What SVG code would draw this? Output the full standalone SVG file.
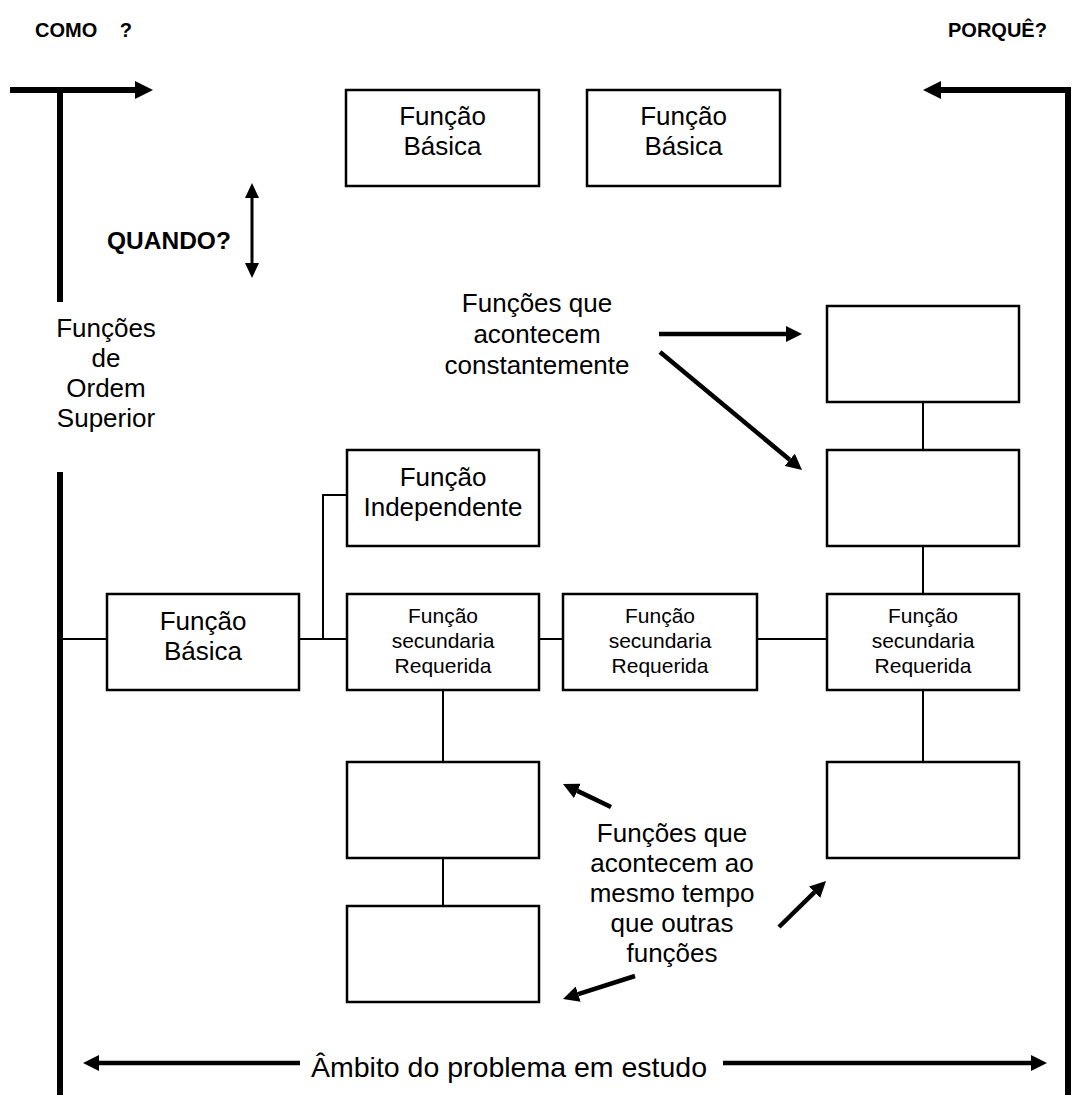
<svg xmlns="http://www.w3.org/2000/svg" width="1080" height="1115" viewBox="0 0 1080 1115">
  <defs>
    <style>
      text { font-family: "Liberation Sans", Arial, Helvetica, sans-serif; fill: #000; }
      .t { font-size: 26px; text-anchor: middle; }
      .s { font-size: 21px; text-anchor: middle; }
      .b { font-size: 20px; font-weight: bold; }
      .box { fill: #fff; stroke: #000; stroke-width: 2.5; }
      .link { fill: none; stroke: #000; stroke-width: 2; }
      .axis { fill: none; stroke: #000; stroke-width: 6; }
      .arr { fill: none; stroke: #000; stroke-width: 4.5; }
    </style>
    <marker id="headL" markerUnits="userSpaceOnUse" markerWidth="18" markerHeight="18" refX="0" refY="9" orient="auto">
      <path d="M0,0 L18,9 L0,18 Z" fill="#000"/>
    </marker>
    <marker id="headM" markerUnits="userSpaceOnUse" markerWidth="16" markerHeight="16" refX="0" refY="8" orient="auto">
      <path d="M0,0 L16,8 L0,16 Z" fill="#000"/>
    </marker>
    <marker id="headS" markerUnits="userSpaceOnUse" markerWidth="15" markerHeight="14" refX="0" refY="7" orient="auto-start-reverse">
      <path d="M0,0 L15,7 L0,14 Z" fill="#000"/>
    </marker>
  </defs>
  <rect width="1080" height="1115" fill="#fff"/>

  <!-- headings -->
  <text class="b" x="35" y="37" style="word-spacing:17px">COMO ?</text>
  <text class="b" x="948" y="37">PORQUÊ?</text>
  <text class="b" x="107" y="249" style="font-size:24.5px">QUANDO?</text>

  <!-- side axes -->
  <g id="axes">
    <path class="axis" d="M10,90 H135" marker-end="url(#headL)"/>
    <path class="axis" d="M60,90 V302"/>
    <path class="axis" d="M60,472 V1095"/>
    <path class="axis" d="M1071,90 H941" marker-end="url(#headL)"/>
    <path class="axis" d="M1068,90 V1095"/>
  </g>

  <text class="t" x="106" y="337">Funções</text>
  <text class="t" x="106" y="367">de</text>
  <text class="t" x="106" y="397">Ordem</text>
  <text class="t" x="106" y="427">Superior</text>

  <!-- connectors -->
  <g id="connectors">
    <path class="link" d="M60,639 H107"/>
    <path class="link" d="M299,639 H347"/>
    <path class="link" d="M323,639 V495 H347"/>
    <path class="link" d="M539,639 H563"/>
    <path class="link" d="M757,639 H827"/>
    <path class="link" d="M923,402 V450"/>
    <path class="link" d="M923,546 V594"/>
    <path class="link" d="M923,690 V762"/>
    <path class="link" d="M443,690 V762"/>
    <path class="link" d="M443,858 V906"/>
    <!-- pointer arrows -->
    <path fill="none" stroke="#000" stroke-width="3" d="M252,198 V263" marker-start="url(#headS)" marker-end="url(#headS)"/>
    <path class="arr" d="M659,334 H786" marker-end="url(#headM)"/>
    <path class="arr" d="M660,352 L789.7,459.8" marker-end="url(#headM)"/>
    <path class="arr" d="M611,807 L577.4,790.9" marker-end="url(#headM)"/>
    <path class="arr" d="M635,976 L578.2,994.1" marker-end="url(#headM)"/>
    <path class="arr" d="M779,927 L814.6,892.2" marker-end="url(#headM)"/>
    <path class="arr" d="M300,1063 H99" marker-end="url(#headM)"/>
    <path class="arr" d="M723,1063 H1031" marker-end="url(#headM)"/>
  </g>

  <!-- nodes -->
  <g id="basica-top-1">
    <rect class="box" x="346" y="90" width="193" height="96"/>
    <text class="t" x="442.5" y="125">Função</text>
    <text class="t" x="442.5" y="155">Básica</text>
  </g>
  <g id="basica-top-2">
    <rect class="box" x="587" y="90" width="193" height="96"/>
    <text class="t" x="683.5" y="125">Função</text>
    <text class="t" x="683.5" y="155">Básica</text>
  </g>
  <g id="basica">
    <rect class="box" x="107" y="594" width="192" height="96"/>
    <text class="t" x="203" y="630">Função</text>
    <text class="t" x="203" y="660">Básica</text>
  </g>
  <g id="independente">
    <rect class="box" x="347" y="450" width="192" height="96"/>
    <text class="t" x="443" y="486">Função</text>
    <text class="t" x="443" y="516">Independente</text>
  </g>
  <g id="secundaria-1">
    <rect class="box" x="347" y="594" width="192" height="96"/>
    <text class="s" x="443" y="623">Função</text>
    <text class="s" x="443" y="648">secundaria</text>
    <text class="s" x="443" y="673">Requerida</text>
  </g>
  <g id="secundaria-2">
    <rect class="box" x="563" y="594" width="194" height="96"/>
    <text class="s" x="660" y="623">Função</text>
    <text class="s" x="660" y="648">secundaria</text>
    <text class="s" x="660" y="673">Requerida</text>
  </g>
  <g id="secundaria-3">
    <rect class="box" x="827" y="594" width="192" height="96"/>
    <text class="s" x="923" y="623">Função</text>
    <text class="s" x="923" y="648">secundaria</text>
    <text class="s" x="923" y="673">Requerida</text>
  </g>
  <g id="constante-1"><rect class="box" x="827" y="306" width="192" height="96"/></g>
  <g id="constante-2"><rect class="box" x="827" y="450" width="192" height="96"/></g>
  <g id="simultanea-1"><rect class="box" x="347" y="762" width="192" height="96"/></g>
  <g id="simultanea-2"><rect class="box" x="347" y="906" width="192" height="96"/></g>
  <g id="simultanea-3"><rect class="box" x="827" y="762" width="192" height="96"/></g>

  <!-- annotations -->
  <text class="t" x="537" y="312">Funções que</text>
  <text class="t" x="537" y="343">acontecem</text>
  <text class="t" x="537" y="374">constantemente</text>

  <text class="t" x="672" y="842">Funções que</text>
  <text class="t" x="672" y="872">acontecem ao</text>
  <text class="t" x="672" y="902">mesmo tempo</text>
  <text class="t" x="672" y="932">que outras</text>
  <text class="t" x="672" y="962">funções</text>

  <text class="t" x="509" y="1077" style="font-size:28.5px">Âmbito do problema em estudo</text>
</svg>
